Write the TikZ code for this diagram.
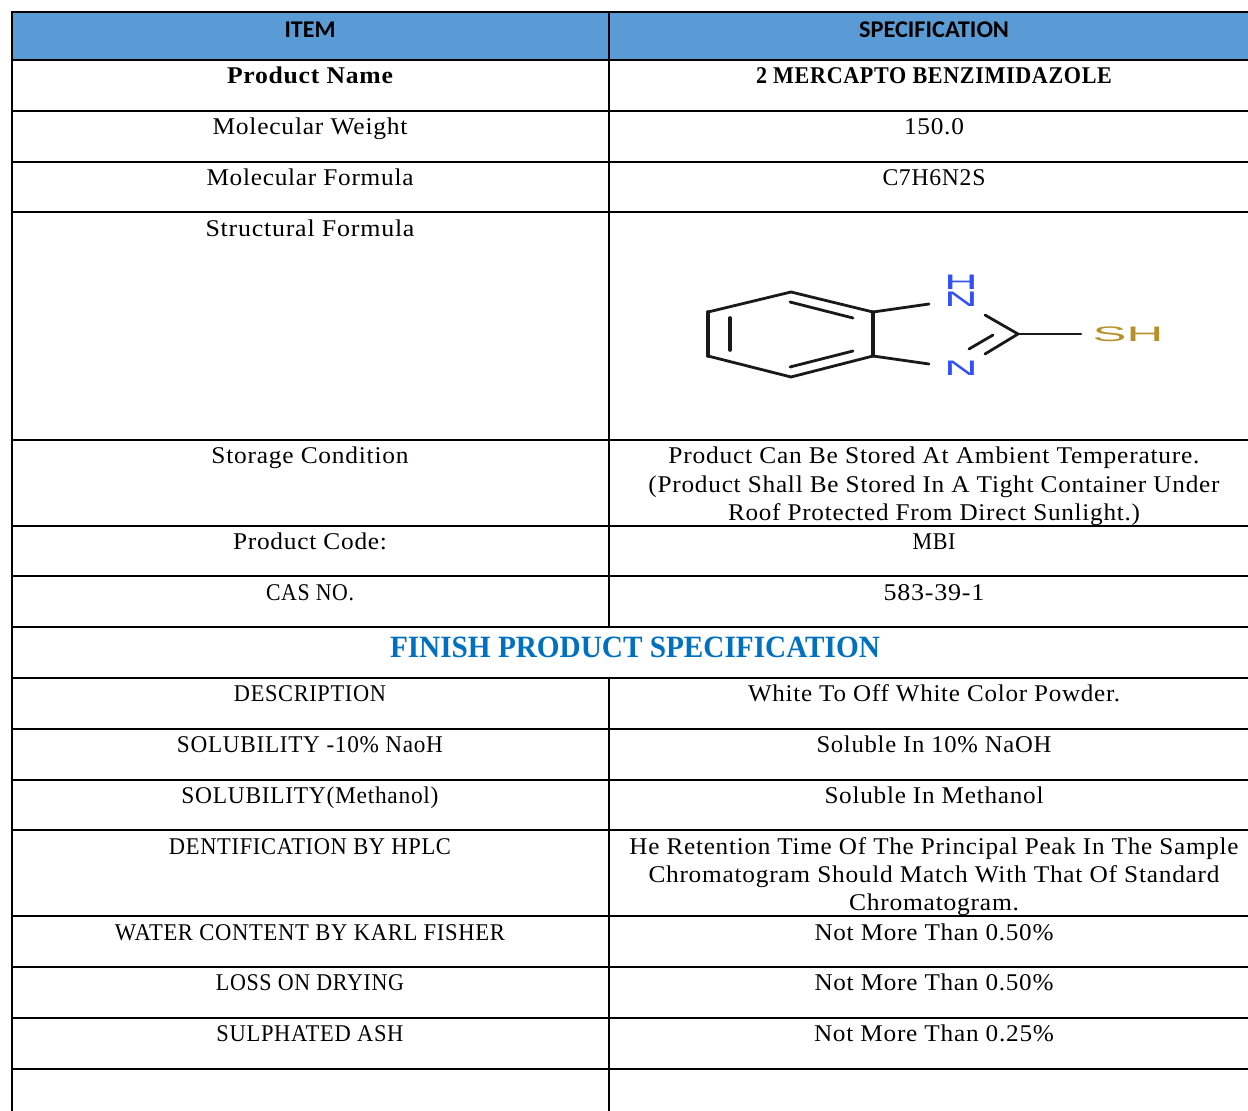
\documentclass[tikz,border=0pt]{standalone}
\usepackage{graphicx}
\usepackage{fontspec}
\setmainfont{Liberation Serif}
\newfontfamily\bodyf[LetterSpace=3]{Liberation Serif}
\newfontfamily\headf{Carlito}
\newfontfamily\molf{Liberation Sans}
\definecolor{headblue}{HTML}{5B9BD5}
\definecolor{titleblue}{HTML}{0070C0}
\definecolor{nblue}{HTML}{3050F8}
\definecolor{sgold}{HTML}{B8902A}
\newcommand{\fw}[2]{\resizebox{#1pt}{\height}{#2}}
\tikzset{
 rule/.style={draw=black,line width=2pt},
 bond/.style={draw=black!90,line width=2.8pt,line cap=round,line join=round},
 cell/.style={anchor=base,inner sep=0pt,outer sep=0pt,font=\bodyf\fontsize{24}{28}\selectfont,align=center},
 boldcell/.style={cell,font=\bodyf\bfseries\fontsize{24}{28}\selectfont},
 head/.style={anchor=base,inner sep=0pt,font=\headf\bfseries\fontsize{24}{28}\selectfont},
 atom/.style={inner sep=0pt,align=center,font=\molf\fontsize{21}{16.5}\selectfont,xscale=2.2},
 atomwide/.style={inner sep=0pt,font=\molf\fontsize{21}{16}\selectfont,xscale=2.42},
}
\begin{document}
\begin{tikzpicture}[x=1pt,y=-1pt]
\useasboundingbox (0,0) rectangle (1248,1111);
\fill[white] (0,0) rectangle (1248,1111);
\fill[headblue] (12,12) rectangle (1248,60);
% horizontal rules
\foreach \y in {60,111,162,212,440,526,576,627,678,729,780,830,916,967,1018,1069}
  \draw[rule] (12,\y) -- (1248,\y);
\draw[draw=black,line width=2.6pt] (11,12) -- (1248,12);
% vertical rules
\draw[rule] (12,11) -- (12,1111);
\draw[rule] (609,12) -- (609,627);
\draw[rule] (609,678) -- (609,1111);
% header
\node[head] (h1) at (310,37) {ITEM};
\node[head] (h2) at (934,37) {\fw{150}{SPECIFICATION}};
% rows
\node[boldcell] (a1) at (310,83) {\fw{166}{Product Name}};
\node[boldcell] (b1) at (934,83) {\fw{356}{2 MERCAPTO BENZIMIDAZOLE}};
\node[cell] (a2) at (310,134) {\fw{195}{Molecular Weight}};
\node[cell] (b2) at (934,134) {\fw{60}{150.0}};
\node[cell] (a3) at (310,185) {\fw{207}{Molecular Formula}};
\node[cell] (b3) at (934,185) {\fw{103}{C7H6N2S}};
\node[cell] (a4) at (310,236) {\fw{209}{Structural Formula}};
\node[cell] (a5) at (310,463) {\fw{197}{Storage Condition}};
\node[cell] (b5a) at (934,463) {\fw{531}{Product Can Be Stored At Ambient Temperature.}};
\node[cell] (b5b) at (934,492) {\fw{571}{(Product Shall Be Stored In A Tight Container Under}};
\node[cell] (b5c) at (934,520) {\fw{412}{Roof Protected From Direct Sunlight.)}};
\node[cell] (a6) at (310,549) {\fw{154}{Product Code:}};
\node[cell] (b6) at (934,549) {\fw{43}{MBI}};
\node[cell] (a7) at (310,600) {\fw{88}{CAS NO.}};
\node[cell] (b7) at (934,600) {\fw{101}{583-39-1}};
\node[anchor=base,inner sep=0pt,text=titleblue,font=\bfseries\fontsize{31}{36}\selectfont] (t) at (635,657) {\fw{490}{FINISH PRODUCT SPECIFICATION}};
\node[cell] (a8) at (310,701) {\fw{152}{DESCRIPTION}};
\node[cell] (b8) at (934,701) {\fw{372}{White To Off White Color Powder.}};
\node[cell] (a9) at (310,752) {\fw{266}{SOLUBILITY -10\% NaoH}};
\node[cell] (b9) at (934,752) {\fw{235}{Soluble In 10\% NaOH}};
\node[cell] (a10) at (310,803) {\fw{257}{SOLUBILITY(Methanol)}};
\node[cell] (b10) at (934,803) {\fw{219}{Soluble In Methanol}};
\node[cell] (a11) at (310,854) {\fw{282}{DENTIFICATION BY HPLC}};
\node[cell] (b11a) at (934,854) {\fw{609}{He Retention Time Of The Principal Peak In The Sample}};
\node[cell] (b11b) at (934,882) {\fw{571}{Chromatogram Should Match With That Of Standard}};
\node[cell] (b11c) at (934,910) {\fw{170}{Chromatogram.}};
\node[cell] (a12) at (310,940) {\fw{390}{WATER CONTENT BY KARL FISHER}};
\node[cell] (b12) at (934,940) {\fw{239}{Not More Than 0.50\%}};
\node[cell] (a13) at (310,990) {\fw{188}{LOSS ON DRYING}};
\node[cell] (b13) at (934,990) {\fw{239}{Not More Than 0.50\%}};
\node[cell] (a14) at (310,1041) {\fw{187}{SULPHATED ASH}};
\node[cell] (b14) at (934,1041) {\fw{240}{Not More Than 0.25\%}};
% molecule
\coordinate (c1) at (791,292);
\coordinate (c2) at (708,312);
\coordinate (c3) at (708,356);
\coordinate (c4) at (791,377);
\coordinate (c5) at (873,356);
\coordinate (c6) at (873,312);
\coordinate (c7) at (1018,334);
\draw[bond] (c1) -- (c2) -- (c3) -- (c4) -- (c5) -- (c6) -- cycle;
\draw[bond] (790,302) -- (853,318);
\draw[bond,line width=3.6pt] (730,318) -- (730,350);
\draw[bond,line width=3.6pt] (708,312) -- (708,356);
\draw[bond,line width=3.2pt] (873,312) -- (873,356);
\draw[bond] (790,367) -- (853,351);
\node[atom,text=nblue] (n1) at (961,291) {H\\N};
\node[atom,text=nblue] (n2) at (961,368) {N};
\node[atomwide,text=sgold] (sh) at (1128,334) {SH};
\draw[bond] (c6) -- (929,304);
\draw[bond] (c5) -- (929,364);
\draw[bond] (985,315) -- (c7) -- (985,354);
\draw[bond] (969,349) -- (993,335);
\draw[bond] (c7) -- (1081,334);
\end{tikzpicture}
\end{document}
